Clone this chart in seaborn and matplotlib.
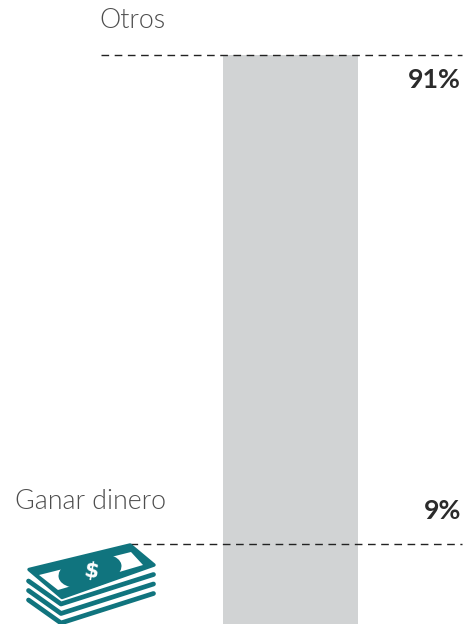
import matplotlib
matplotlib.use("Agg")
import matplotlib.pyplot as plt
import pandas as pd
import seaborn as sns
from matplotlib.patches import Ellipse, Polygon

# the drawn segments are not to scale with the labels, so lengths are read off the picture
categories = ["Ganar dinero", "Otros"]
segment_lengths = [14.9, 91.0]
percent_labels = ["9%", "91%"]

BAR_COLOR = "#d1d3d4"
TEAL = "#10747e"
LIGHT_TEXT = "#4d4d4d"
DARK_TEXT = "#2b2b2b"

W, H = 463, 624

sns.set_theme(style="white")
plt.rcParams["font.family"] = ["Lato", "DejaVu Sans"]

fig = plt.figure(figsize=(W / 100, H / 100), dpi=100)
ax = fig.add_axes([0, 0, 1, 1])

totals = [segment_lengths[0], sum(segment_lengths)]
df = pd.DataFrame({"group": ["all"], "total": [totals[-1]]})
sns.barplot(data=df, x="group", y="total", color=BAR_COLOR, saturation=1, width=1,
            linewidth=0, ax=ax)

# bar spans 223-358 px, top boundary at 55 px
left_px, right_px = 222.5, 358
px_per_unit = right_px - left_px
ax.set_xlim(-0.5 - left_px / px_per_unit, 0.5 + (W - right_px) / px_per_unit)
ax.set_ylim(0, totals[-1] * H / (H - 55))
ax.axis("off")

trans = ax.get_yaxis_transform()
line_starts = [130, 101]
name_x = [166, 99]
name_ha = ["right", "left"]
name_off = [35, 27]
pct_off = [25, -33]

for i, cat in enumerate(categories):
    ax.hlines(totals[i], line_starts[i] / W, 462 / W, transform=trans, color="#222222",
              linewidth=1, linestyles=(0, (5.5, 4)), zorder=5)
    ax.annotate(cat, xy=(name_x[i] / W, totals[i]), xycoords=trans,
                xytext=(0, name_off[i]), textcoords="offset pixels",
                ha=name_ha[i], va="baseline", fontsize=19.3, fontweight=300, color=LIGHT_TEXT)
    ax.annotate(percent_labels[i], xy=(461 / W, totals[i]), xycoords=trans,
                xytext=(0, pct_off[i]), textcoords="offset pixels",
                ha="right", va="baseline", fontsize=19.3, fontweight="bold", color=DARK_TEXT)

# money icon, in pixel coordinates
icon = fig.add_axes([0, 0, 1, 1], facecolor="none")
icon.set_xlim(0, W)
icon.set_ylim(H, 0)
icon.axis("off")

for dy in [0, 9.5, 19]:
    icon.plot([28.5, 61, 153.5], [581 + dy, 604 + dy, 574.5 + dy], color=TEAL, linewidth=3.4,
              solid_capstyle="round", solid_joinstyle="round")

icon.add_patch(Polygon([(29, 569.5), (130, 545), (154, 565), (62, 597.5)], closed=True,
                       facecolor=TEAL, edgecolor=TEAL, linewidth=2.5, joinstyle="round"))
icon.add_patch(Polygon([(39, 575), (131, 552), (143, 565), (58, 590)], closed=True,
                       facecolor="white", edgecolor="none"))
icon.add_patch(Ellipse((90, 571), 64, 33, angle=-12, facecolor=TEAL, edgecolor="none"))
icon.text(91, 571, "$", color="white", fontsize=15, fontweight="bold", rotation=-10,
          ha="center", va="center", family=["DejaVu Sans"])

fig.savefig("out.png", dpi=100)
